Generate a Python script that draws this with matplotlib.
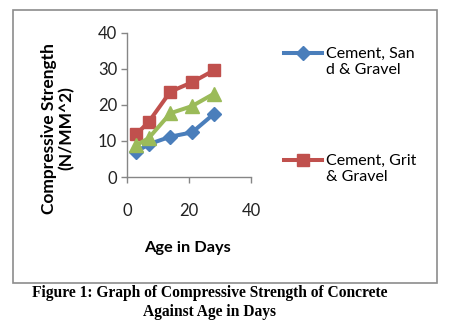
import matplotlib.pyplot as plt
from matplotlib.lines import Line2D
from matplotlib.patches import Rectangle

# data
days = [3, 7, 14, 21, 28]
sand_gravel = [7.0, 9.1, 11.2, 12.4, 17.5]
grit_gravel = [11.9, 15.3, 23.7, 26.3, 29.6]
third_mix = [8.8, 10.8, 17.7, 19.7, 23.1]

labels = ['Cement, San\nd & Gravel', 'Cement, Grit\n& Gravel']
caption = 'Figure 1: Graph of Compressive Strength of Concrete\nAgainst Age in Days'

blue = '#4A7EBB'
red = '#C0504D'
green = '#9BBB59'
axis_grey = '#868686'

plt.rcParams['font.family'] = ['Lato', 'DejaVu Sans']

fig = plt.figure(figsize=(4.56, 3.26), dpi=100)
ax = fig.add_axes([0.2785, 0.457, 0.272, 0.442])

# outer chart border
fig.patches.append(Rectangle((13 / 456, 1 - 283 / 326), 424 / 456, 273 / 326,
                             transform=fig.transFigure, fill=False,
                             edgecolor='#8c8c8c', linewidth=1.2))

l1, = ax.plot(days, sand_gravel, color=blue, lw=2.9, marker='D', ms=7.5, zorder=3)
l2, = ax.plot(days, grit_gravel, color=red, lw=2.9, marker='s', ms=8.8, zorder=3)
l3, = ax.plot(days, third_mix, color=green, lw=2.9, marker='^', ms=10, zorder=3)

ax.set_xlim(0, 40)
ax.set_ylim(0, 40)
ax.set_xticks([0, 20, 40])
ax.set_yticks([0, 10, 20, 30, 40])
for s in ['top', 'right']:
    ax.spines[s].set_visible(False)
for s in ['left', 'bottom']:
    ax.spines[s].set_color(axis_grey)
    ax.spines[s].set_linewidth(1.0)
ax.tick_params(axis='both', colors=axis_grey, labelcolor='#222222',
               labelsize=12, length=4, width=1.0)
ax.tick_params(axis='x', pad=15)
ax.tick_params(axis='y', pad=3)

ax.set_ylabel('Compressive Strength\n(N/MM^2)', fontsize=12.5,
              fontweight='bold', linespacing=1.1)
ax.yaxis.set_label_coords(-0.556, 0.337)
ax.yaxis.label.set_va('center')
ax.set_xlabel('Age in Days', fontsize=11.8, fontweight='bold')
ax.xaxis.set_label_coords(0.49, -0.493)
ax.xaxis.label.set_va('center')

# legend: two entries, the marker sits beside the first line of its label
blank = Line2D([], [], linestyle='none')
leg_kw = dict(loc='upper left', frameon=False, fontsize=11.5, borderaxespad=0,
              borderpad=0, handlelength=2.4, handletextpad=0.2,
              labelspacing=0.1)
first = labels[0].split('\n')
second = labels[1].split('\n')
leg1 = fig.legend([l1, blank], first, bbox_to_anchor=(284 / 456, 1 - 47 / 326), **leg_kw)
leg2 = fig.legend([l2, blank], second, bbox_to_anchor=(284 / 456, 1 - 154 / 326), **leg_kw)

fig.text(210 / 456, 1 - 285 / 326, caption, ha='center', va='top',
         family='Liberation Serif', fontweight='bold', fontsize=11.2,
         linespacing=1.25)

fig.savefig('out.png', dpi=100)
